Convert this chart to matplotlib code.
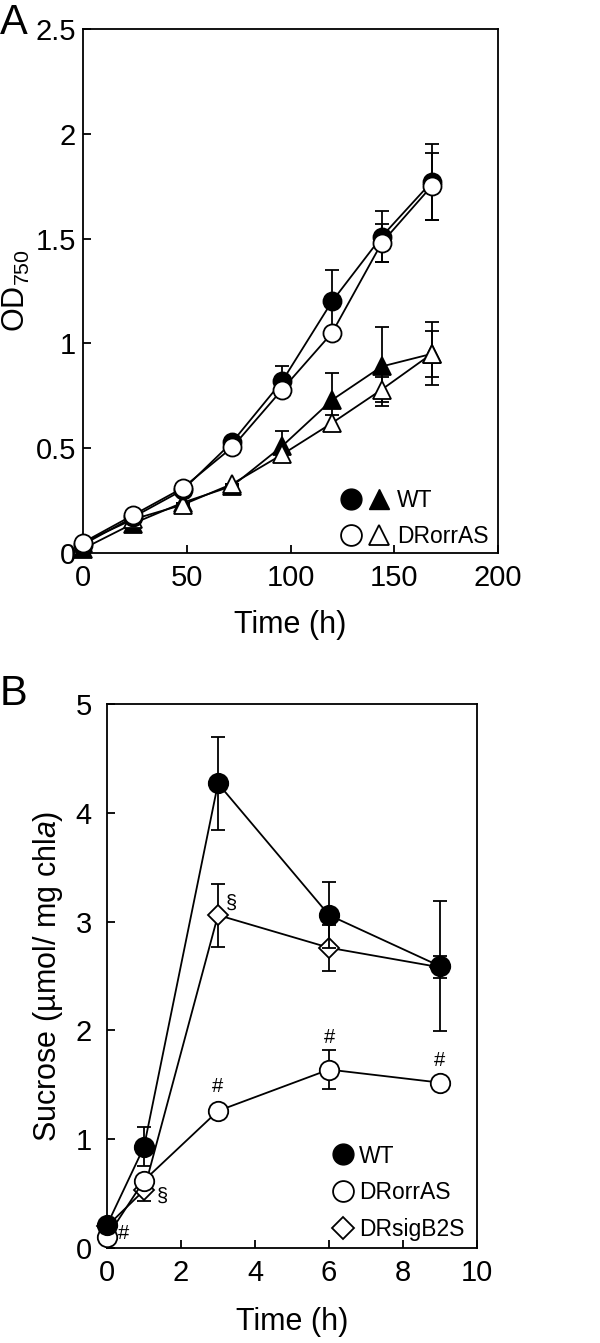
import matplotlib
matplotlib.use("Agg")
import matplotlib.pyplot as plt
from matplotlib.lines import Line2D
from matplotlib.legend_handler import HandlerTuple
from matplotlib.ticker import FuncFormatter

plt.rcParams["font.family"] = ["Liberation Sans", "DejaVu Sans"]
plt.rcParams["mathtext.fontset"] = "custom"
plt.rcParams["mathtext.rm"] = "Liberation Sans"
plt.rcParams["mathtext.it"] = "Liberation Sans:italic"

# ---- panel A: growth (OD750) ----
time_a = [0, 24, 48, 72, 96, 120, 144, 168]
wt_circ = [0.04, 0.17, 0.30, 0.53, 0.82, 1.20, 1.51, 1.77]
wt_circ_err = [0.0, 0.0, 0.0, 0.0, 0.07, 0.15, 0.12, 0.18]
dr_circ = [0.05, 0.18, 0.31, 0.505, 0.78, 1.05, 1.48, 1.75]
dr_circ_err = [0.0, 0.0, 0.0, 0.0, 0.0, 0.0, 0.09, 0.16]
wt_tri = [0.02, 0.14, 0.24, 0.32, 0.51, 0.73, 0.89, 0.95]
wt_tri_err = [0.0, 0.0, 0.0, 0.0, 0.07, 0.13, 0.19, 0.11]
dr_tri = [0.05, 0.16, 0.23, 0.33, 0.47, 0.62, 0.78, 0.95]
dr_tri_err = [0.0, 0.0, 0.0, 0.0, 0.0, 0.04, 0.06, 0.15]

# ---- panel B: sucrose ----
time_b = [0, 1, 3, 6, 9]
wt_suc = [0.21, 0.93, 4.27, 3.06, 2.59]
wt_suc_err = [0.0, 0.18, 0.43, 0.30, 0.60]
orr_suc = [0.10, 0.62, 1.26, 1.64, 1.52]
orr_suc_err = [0.0, 0.0, 0.0, 0.18, 0.0]
sig_suc = [0.20, 0.53, 3.06, 2.76, 2.58]
sig_suc_err = [0.0, 0.10, 0.29, 0.21, 0.10]

# significance marks: (series, index, symbol, dx, dy in px)
marks_b = [
    ("orr", 0, "#", 17, 4),
    ("sig", 1, "§", 18, -6),
    ("sig", 2, "§", 13, 12),
    ("orr", 2, "#", 0, 24),
    ("orr", 3, "#", 1, 32),
    ("orr", 4, "#", 0, 22),
]

fig = plt.figure(figsize=(6, 13.43), dpi=100)
ax_a = fig.add_axes([83 / 600, 1 - 553 / 1343, 415 / 600, 524 / 1343])
ax_b = fig.add_axes([107 / 600, 1 - 1248 / 1343, 370 / 600, 544 / 1343])

ekw = dict(color="black", lw=1.3, capsize=5, capthick=1.3, elinewidth=1.3,
           clip_on=False)


def series(ax, x, y, err, marker, filled, ms, z):
    ax.errorbar(x, y, yerr=err, marker=marker, ms=ms,
                mfc="black" if filled else "white", mec="black", mew=1.3,
                zorder=z, **ekw)


series(ax_a, time_a, wt_tri, wt_tri_err, "^", True, 13, 3)
series(ax_a, time_a, dr_tri, dr_tri_err, "^", False, 13, 4)
series(ax_a, time_a, wt_circ, wt_circ_err, "o", True, 13, 5)
series(ax_a, time_a, dr_circ, dr_circ_err, "o", False, 13, 6)

ax_a.set_xlim(0, 200)
ax_a.set_ylim(0, 2.5)
ax_a.set_xticks([0, 50, 100, 150, 200])
ax_a.set_yticks([0, 0.5, 1, 1.5, 2, 2.5])
ax_a.yaxis.set_major_formatter(FuncFormatter(lambda v, p: f"{v:g}"))
ax_a.set_xlabel("Time (h)", fontsize=22)
ax_a.set_ylabel("OD$_{\\mathregular{750}}$", fontsize=22)
ax_a.xaxis.set_label_coords(0.5, -0.109)
ax_a.yaxis.set_label_coords(-0.122, 0.5)

h_wc = Line2D([], [], ls="none", marker="o", ms=15, mfc="black", mec="black")
h_wt = Line2D([], [], ls="none", marker="^", ms=15, mfc="black", mec="black")
h_dc = Line2D([], [], ls="none", marker="o", ms=15, mfc="white", mec="black", mew=1.3)
h_dt = Line2D([], [], ls="none", marker="^", ms=15, mfc="white", mec="black", mew=1.3)
ax_a.legend([(h_wc, h_wt), (h_dc, h_dt)], ["WT", "DRorrAS"],
            handler_map={tuple: HandlerTuple(ndivide=None, pad=0.25)},
            loc="lower right", frameon=False, fontsize=16.5,
            handlelength=2.2, handletextpad=0.3, labelspacing=0.55,
            borderaxespad=0.0, bbox_to_anchor=(1.0, -0.008))

series(ax_b, time_b, sig_suc, sig_suc_err, "D", False, 10, 3)
series(ax_b, time_b, orr_suc, orr_suc_err, "o", False, 14, 4)
series(ax_b, time_b, wt_suc, wt_suc_err, "o", True, 14, 5)

data_b = {"orr": orr_suc, "sig": sig_suc}
for name, i, sym, dx, dy in marks_b:
    ax_b.annotate(sym, xy=(time_b[i], data_b[name][i]),
                  xytext=(dx * 0.72, dy * 0.72), textcoords="offset points",
                  ha="center", va="center", fontsize=14.5)

ax_b.set_xlim(0, 10)
ax_b.set_ylim(0, 5)
ax_b.set_xticks([0, 2, 4, 6, 8, 10])
ax_b.set_yticks([0, 1, 2, 3, 4, 5])
ax_b.set_xlabel("Time (h)", fontsize=22)
ax_b.set_ylabel("Sucrose (µmol/ mg chl$\\it{a}$)", fontsize=22)
ax_b.xaxis.set_label_coords(0.5, -0.108)
ax_b.yaxis.set_label_coords(-0.114, 0.5)

hb = [Line2D([], [], ls="none", marker="o", ms=15, mfc="black", mec="black"),
      Line2D([], [], ls="none", marker="o", ms=15, mfc="white", mec="black", mew=1.3),
      Line2D([], [], ls="none", marker="D", ms=11, mfc="white", mec="black", mew=1.3)]
ax_b.legend(hb, ["WT", "DRorrAS", "DRsigB2S"], loc="lower right",
            frameon=False, fontsize=16.5, handlelength=0.9, handletextpad=0.25,
            labelspacing=0.6, borderaxespad=0.0, bbox_to_anchor=(0.99, -0.004))

for ax in (ax_a, ax_b):
    for s in ax.spines.values():
        s.set_linewidth(1.3)
    ax.tick_params(direction="in", length=6, width=1.3, labelsize=21,
                   top=False, right=False)
ax_a.tick_params(axis="x", pad=8)
ax_a.tick_params(axis="y", pad=5)
ax_b.tick_params(axis="x", pad=8)
ax_b.tick_params(axis="y", pad=11)

fig.text(0.0, 1 - 3 / 1343, "A", fontsize=30, va="top", ha="left")
fig.text(0.0, 1 - 674 / 1343, "B", fontsize=30, va="top", ha="left")

fig.savefig("out.png", dpi=100)
